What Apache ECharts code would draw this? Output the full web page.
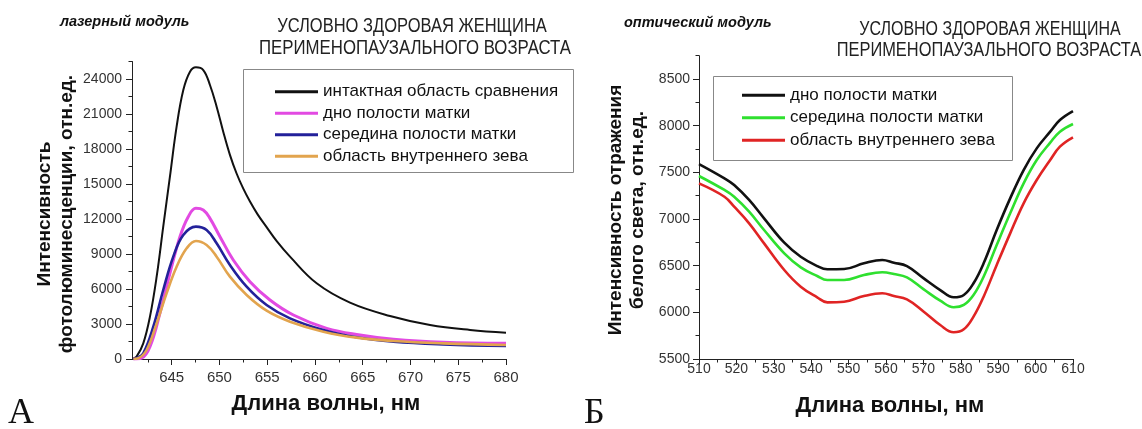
<!DOCTYPE html>
<html><head><meta charset="utf-8">
<script src="https://cdn.jsdelivr.net/npm/echarts@6/dist/echarts.min.js"></script>
<style>html,body{margin:0;padding:0;background:#fff}#c{width:1142px;height:429px}</style>
</head><body><div id="c"></div>
<script>
// ---------- Panel A (laser module) ----------
const leftNames = ['интактная область сравнения','дно полости матки','середина полости матки','область внутреннего зева'];
const leftColors = ['#111111','#e24ae2','#23219a','#e2a44e'];
const leftWidths = [2,3,2.6,2.6];
const blackWave = [641.0,641.33,642.03,642.73,643.43,644.12,644.82,645.52,646.22,646.92,647.54,648.31,649.01,649.71,650.40,651.10,651.80,652.50,653.20,654.00,654.94,656.00,657.39,660.18,663.67,667.86,672.05,676.24,680.0];
const blackVal  = [60,200,1343,3629,7057,11343,15629,19914,23057,24629,25000,24771,23486,21629,19486,17500,15900,14600,13500,12400,11300,10100,8771,6486,4829,3686,2914,2486,2257];
const magWave = [641.0,641.86,642.73,643.77,644.82,645.87,646.74,647.54,648.31,649.01,650.06,651.45,653.20,655.29,657.74,661.23,664.72,668.21,673.44,680.0];
const magVal  = [0,80,1057,3914,7343,10486,12200,12914,12771,12057,10486,8486,6629,5057,3771,2629,2057,1686,1429,1343];
const blueWave = [641.0,641.33,642.03,643.08,644.12,645.17,646.22,647.54,648.66,649.71,651.10,652.85,654.94,657.39,660.88,664.37,668.21,673.44,680.0];
const blueVal  = [0,60,486,2771,5914,8771,10629,11343,11057,9914,8057,6200,4629,3486,2486,1857,1486,1257,1114];
const orWave = [641.0,641.5,642.38,643.43,644.47,645.52,646.57,647.54,648.66,649.71,651.10,652.85,654.94,657.39,660.88,664.37,668.21,673.44,680.0];
const orVal  = [0,60,771,3057,5629,7914,9486,10114,9771,8771,7057,5486,4143,3200,2343,1829,1543,1343,1200];
const leftXTicks = [645,650,655,660,665,670,675,680];
const leftXMinor = [642.5,647.5,652.5,657.5,662.5,667.5,672.5,677.5];
const leftYTicks = [0,3000,6000,9000,12000,15000,18000,21000,24000];
const leftYMinor = [1500,4500,7500,10500,13500,16500,19500,22500,25500];

// ---------- Panel Б (optical module) ----------
const rightNames = ['дно полости матки','середина полости матки','область внутреннего зева'];
const rightColors = ['#111111','#2fe02f','#e02424'];
const rightWave = [510,516.8,519.4,523.4,527.4,532.8,537.2,541.6,544.3,548.8,554.1,559.0,562.1,565.6,570.1,574.5,578.1,580.8,583.4,586.1,589.6,593.2,596.8,600.3,603.9,606.5,610.0];
const rBlack = [7589,7436,7364,7204,7007,6746,6596,6496,6461,6464,6525,6561,6532,6496,6364,6239,6161,6186,6311,6525,6882,7221,7525,7757,7936,8061,8157];
const rGreen = [7461,7311,7239,7079,6882,6632,6482,6389,6346,6346,6400,6429,6411,6375,6246,6125,6054,6079,6186,6382,6721,7061,7382,7632,7818,7936,8018];
const rRed   = [7382,7239,7132,6954,6739,6454,6275,6161,6107,6114,6175,6204,6175,6139,6007,5864,5786,5818,5954,6168,6507,6846,7168,7418,7632,7775,7875];
const rightXTicks = [510,520,530,540,550,560,570,580,590,600,610];
const rightXMinor = [515,525,535,545,555,565,575,585,595,605];
const rightYTicks = [5500,6000,6500,7000,7500,8000,8500];
const rightYMinor = [5750,6250,6750,7250,7750,8250,8750];

const FF = '"Liberation Sans", Arial, sans-serif';
const zip = (a,b) => a.map((x,i)=>[x,b[i]]);
const axisCol = '#222';

function mainAxis(grid, min, max, ticks, labelSize, margin, extra){
  return Object.assign({
    gridIndex: grid, type:'value', min, max,
    axisLine:{show:true, lineStyle:{color:axisCol, width:1}},
    axisTick:{show:true, customValues:ticks, length:6, lineStyle:{color:axisCol}},
    axisLabel:{customValues:ticks, color:'#333', fontSize:labelSize, fontFamily:FF, margin, formatter: v => String(v)},
    splitLine:{show:false}
  }, extra||{});
}
function minorAxis(grid, min, max, ticks, extra){
  return Object.assign({
    gridIndex: grid, type:'value', min, max,
    axisLine:{show:false},
    axisTick:{show:true, customValues:ticks, length:3.5, lineStyle:{color:axisCol}},
    axisLabel:{show:false},
    splitLine:{show:false}
  }, extra||{});
}

const leftSeriesData = [zip(blackWave,blackVal), zip(magWave,magVal), zip(blueWave,blueVal), zip(orWave,orVal)];
const rightSeriesData = [zip(rightWave,rBlack), zip(rightWave,rGreen), zip(rightWave,rRed)];

const series = [];
leftNames.forEach((n,i)=>series.push({
  type:'line', name:'A|'+n, xAxisIndex:0, yAxisIndex:0, data:leftSeriesData[i],
  showSymbol:false, smooth:0.4,
  lineStyle:{color:leftColors[i], width:leftWidths[i]}, itemStyle:{color:leftColors[i]}
}));
rightNames.forEach((n,i)=>series.push({
  type:'line', name:'B|'+n, xAxisIndex:2, yAxisIndex:2, data:rightSeriesData[i],
  showSymbol:false, smooth:0.4,
  lineStyle:{color:rightColors[i], width:2.6}, itemStyle:{color:rightColors[i]}
}));

const legendCommon = {
  orient:'vertical', icon:'rect', itemWidth:43, itemHeight:3, itemGap:0, padding:0,
  formatter: n => n.split('|')[1],
  textStyle:{fontSize:17, fontFamily:FF, color:'#111'}
};

const option = {
  animation:false,
  backgroundColor:'#fff',
  grid:[
    {left:132, top:61.5, width:374, height:297.5},
    {left:699, top:55.7, width:374, height:303.3}
  ],
  xAxis:[
    mainAxis(0, 640.85, 680, leftXTicks, 15, 11, {position:'bottom'}),
    minorAxis(0, 640.85, 680, leftXMinor, {position:'bottom'}),
    mainAxis(1, 510, 610, rightXTicks, 14, 3, {position:'bottom'}),
    minorAxis(1, 510, 610, rightXMinor, {position:'bottom'})
  ],
  yAxis:[
    mainAxis(0, 0, 25500, leftYTicks, 14, 10, {position:'left'}),
    minorAxis(0, 0, 25500, leftYMinor, {position:'left'}),
    mainAxis(1, 5500, 8750, rightYTicks, 14, 9, {position:'left'}),
    minorAxis(1, 5500, 8750, rightYMinor, {position:'left'})
  ],
  legend:[
    Object.assign({}, legendCommon, {data:leftNames.map(n=>'A|'+n), left:275, top:81,
      textStyle:Object.assign({}, legendCommon.textStyle, {lineHeight:21.5})}),
    Object.assign({}, legendCommon, {data:rightNames.map(n=>'B|'+n), left:742, top:84,
      textStyle:Object.assign({}, legendCommon.textStyle, {lineHeight:22.5})})
  ],
  series,
  graphic:[
    {type:'rect', shape:{x:243.5,y:69.5,width:330,height:103}, style:{fill:'none', stroke:'#888', lineWidth:1}},
    {type:'rect', shape:{x:713.5,y:76.5,width:299,height:84}, style:{fill:'none', stroke:'#888', lineWidth:1}},
    {type:'text', x:60, y:22, style:{text:'лазерный модуль', font:'italic bold 14.5px '+FF, fill:'#111', verticalAlign:'middle', textVerticalAlign:'middle'}},
    {type:'text', x:624, y:23, style:{text:'оптический модуль', font:'italic bold 14.5px '+FF, fill:'#111', verticalAlign:'middle', textVerticalAlign:'middle'}},
    {type:'text', x:412, y:26, scaleX:0.825, style:{text:'УСЛОВНО ЗДОРОВАЯ ЖЕНЩИНА', font:'20px '+FF, fill:'#222', align:'center', textAlign:'center', verticalAlign:'middle', textVerticalAlign:'middle'}},
    {type:'text', x:415, y:48, scaleX:0.84, style:{text:'ПЕРИМЕНОПАУЗАЛЬНОГО ВОЗРАСТА', font:'20px '+FF, fill:'#222', align:'center', textAlign:'center', verticalAlign:'middle', textVerticalAlign:'middle'}},
    {type:'text', x:990, y:29, scaleX:0.80, style:{text:'УСЛОВНО ЗДОРОВАЯ ЖЕНЩИНА', font:'20px '+FF, fill:'#222', align:'center', textAlign:'center', verticalAlign:'middle', textVerticalAlign:'middle'}},
    {type:'text', x:989, y:50, scaleX:0.82, style:{text:'ПЕРИМЕНОПАУЗАЛЬНОГО ВОЗРАСТА', font:'20px '+FF, fill:'#222', align:'center', textAlign:'center', verticalAlign:'middle', textVerticalAlign:'middle'}},
    {type:'text', x:56, y:214, rotation:Math.PI/2, style:{text:'Интенсивность\nфотолюминесценции, отн.ед.', font:'bold 19px '+FF, lineHeight:22, fill:'#111', align:'center', textAlign:'center', verticalAlign:'middle', textVerticalAlign:'middle'}},
    {type:'text', x:627, y:210, rotation:Math.PI/2, style:{text:'Интенсивность отражения\nбелого света, отн.ед.', font:'bold 19px '+FF, lineHeight:22, fill:'#111', align:'center', textAlign:'center', verticalAlign:'middle', textVerticalAlign:'middle'}},
    {type:'text', x:326, y:404, style:{text:'Длина волны, нм', font:'bold 22px '+FF, fill:'#111', align:'center', textAlign:'center', verticalAlign:'middle', textVerticalAlign:'middle'}},
    {type:'text', x:890, y:406, style:{text:'Длина волны, нм', font:'bold 22px '+FF, fill:'#111', align:'center', textAlign:'center', verticalAlign:'middle', textVerticalAlign:'middle'}},
    {type:'text', x:8, y:414, style:{text:'А', font:'36px "Liberation Serif", "Times New Roman", serif', fill:'#111', verticalAlign:'middle', textVerticalAlign:'middle'}},
    {type:'text', x:584, y:414, style:{text:'Б', font:'36px "Liberation Serif", "Times New Roman", serif', fill:'#111', verticalAlign:'middle', textVerticalAlign:'middle'}}
  ]
};
const chart = echarts.init(document.getElementById('c'), null, {renderer:'canvas'});
chart.setOption(option);
</script>
</body></html>
